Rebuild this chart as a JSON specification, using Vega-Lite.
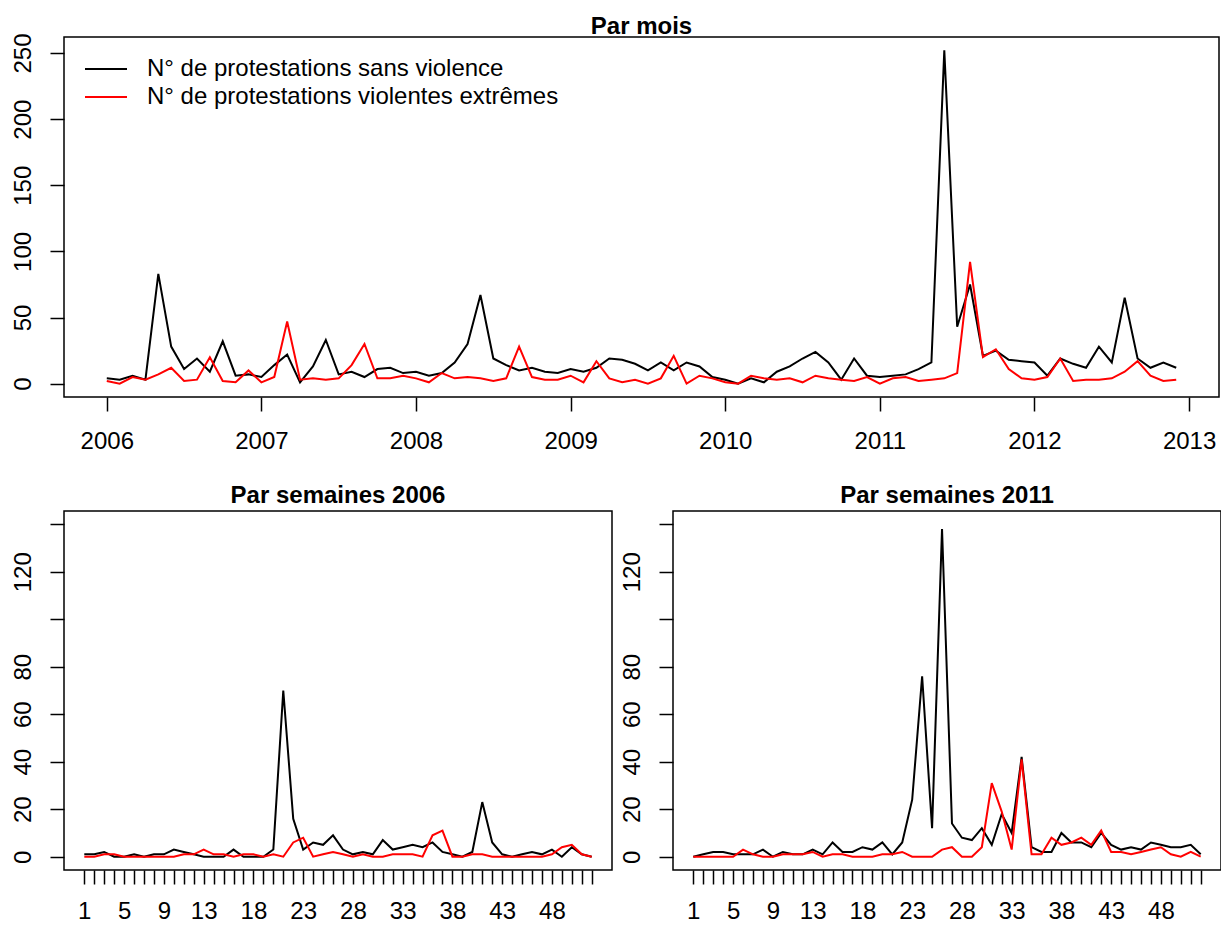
{
  "$schema": "https://vega.github.io/schema/vega-lite/v6.json",
  "padding": {"left": 10, "top": 14, "right": 0, "bottom": 0},
  "background": "white",
  "config": {
    "font": "Liberation Sans",
    "view": {"stroke": "#000000", "strokeWidth": 1.5},
    "axis": {"grid": false, "domain": false, "tickColor": "#000000", "tickWidth": 1.5, "tickSize": 14, "labelFont": "Liberation Sans", "labelFontSize": 24, "labelColor": "#000000", "labelFlush": false, "labelOverlap": false},
    "axisX": {"labelPadding": 15},
    "axisY": {"labelAngle": 270, "labelAlign": "center", "labelBaseline": "bottom", "labelPadding": 15},
    "title": {"fontSize": 24, "fontWeight": "bold", "font": "Liberation Sans", "color": "#000000", "offset": 0, "anchor": "middle"},
    "line": {"strokeWidth": 2}
  },
  "datasets": {
    "mois": [
      {"m":0,"sans":4,"viol":2},{"m":1,"sans":3,"viol":0},{"m":2,"sans":6,"viol":5},{"m":3,"sans":3,"viol":3},
      {"m":4,"sans":83,"viol":7},{"m":5,"sans":28,"viol":12},{"m":6,"sans":11,"viol":2},{"m":7,"sans":19,"viol":3},
      {"m":8,"sans":9,"viol":20},{"m":9,"sans":32,"viol":2},{"m":10,"sans":6,"viol":1},{"m":11,"sans":7,"viol":10},
      {"m":12,"sans":5,"viol":1},{"m":13,"sans":14,"viol":5},{"m":14,"sans":22,"viol":47},{"m":15,"sans":1,"viol":3},
      {"m":16,"sans":13,"viol":4},{"m":17,"sans":33,"viol":3},{"m":18,"sans":7,"viol":4},{"m":19,"sans":9,"viol":14},
      {"m":20,"sans":5,"viol":30},{"m":21,"sans":11,"viol":4},{"m":22,"sans":12,"viol":4},{"m":23,"sans":8,"viol":6},
      {"m":24,"sans":9,"viol":4},{"m":25,"sans":6,"viol":1},{"m":26,"sans":8,"viol":8},{"m":27,"sans":16,"viol":4},
      {"m":28,"sans":30,"viol":5},{"m":29,"sans":67,"viol":4},{"m":30,"sans":19,"viol":2},{"m":31,"sans":14,"viol":4},
      {"m":32,"sans":10,"viol":28},{"m":33,"sans":12,"viol":5},{"m":34,"sans":9,"viol":3},{"m":35,"sans":8,"viol":3},
      {"m":36,"sans":11,"viol":6},{"m":37,"sans":9,"viol":1},{"m":38,"sans":12,"viol":17},{"m":39,"sans":19,"viol":4},
      {"m":40,"sans":18,"viol":1},{"m":41,"sans":15,"viol":3},{"m":42,"sans":10,"viol":0},{"m":43,"sans":16,"viol":4},
      {"m":44,"sans":10,"viol":21},{"m":45,"sans":16,"viol":0},{"m":46,"sans":13,"viol":6},{"m":47,"sans":5,"viol":4},
      {"m":48,"sans":3,"viol":1},{"m":49,"sans":0,"viol":0},{"m":50,"sans":4,"viol":6},{"m":51,"sans":1,"viol":4},
      {"m":52,"sans":9,"viol":3},{"m":53,"sans":13,"viol":4},{"m":54,"sans":19,"viol":1},{"m":55,"sans":24,"viol":6},
      {"m":56,"sans":16,"viol":4},{"m":57,"sans":3,"viol":3},{"m":58,"sans":19,"viol":2},{"m":59,"sans":6,"viol":5},
      {"m":60,"sans":5,"viol":0},{"m":61,"sans":6,"viol":4},{"m":62,"sans":7,"viol":5},{"m":63,"sans":11,"viol":2},
      {"m":64,"sans":16,"viol":3},{"m":65,"sans":252,"viol":4},{"m":66,"sans":43,"viol":8},{"m":67,"sans":75,"viol":92},
      {"m":68,"sans":21,"viol":20},{"m":69,"sans":25,"viol":26},{"m":70,"sans":18,"viol":11},{"m":71,"sans":17,"viol":4},
      {"m":72,"sans":16,"viol":3},{"m":73,"sans":6,"viol":5},{"m":74,"sans":19,"viol":19},{"m":75,"sans":15,"viol":2},
      {"m":76,"sans":12,"viol":3},{"m":77,"sans":28,"viol":3},{"m":78,"sans":16,"viol":4},{"m":79,"sans":65,"viol":9},
      {"m":80,"sans":19,"viol":17},{"m":81,"sans":12,"viol":6},{"m":82,"sans":16,"viol":2},{"m":83,"sans":12,"viol":3}
    ],
    "s2006": [
      {"w":1,"sans":1,"viol":0},{"w":2,"sans":1,"viol":0},{"w":3,"sans":2,"viol":1},{"w":4,"sans":0,"viol":1},
      {"w":5,"sans":0,"viol":0},{"w":6,"sans":1,"viol":0},{"w":7,"sans":0,"viol":0},{"w":8,"sans":1,"viol":0},
      {"w":9,"sans":1,"viol":0},{"w":10,"sans":3,"viol":0},{"w":11,"sans":2,"viol":1},{"w":12,"sans":1,"viol":1},
      {"w":13,"sans":0,"viol":3},{"w":14,"sans":0,"viol":1},{"w":15,"sans":0,"viol":1},{"w":16,"sans":3,"viol":0},
      {"w":17,"sans":0,"viol":1},{"w":18,"sans":0,"viol":1},{"w":19,"sans":0,"viol":0},{"w":20,"sans":3,"viol":1},
      {"w":21,"sans":70,"viol":0},{"w":22,"sans":16,"viol":6},{"w":23,"sans":3,"viol":8},{"w":24,"sans":6,"viol":0},
      {"w":25,"sans":5,"viol":1},{"w":26,"sans":9,"viol":2},{"w":27,"sans":3,"viol":1},{"w":28,"sans":1,"viol":0},
      {"w":29,"sans":2,"viol":1},{"w":30,"sans":1,"viol":0},{"w":31,"sans":7,"viol":0},{"w":32,"sans":3,"viol":1},
      {"w":33,"sans":4,"viol":1},{"w":34,"sans":5,"viol":1},{"w":35,"sans":4,"viol":0},{"w":36,"sans":6,"viol":9},
      {"w":37,"sans":2,"viol":11},{"w":38,"sans":1,"viol":0},{"w":39,"sans":0,"viol":0},{"w":40,"sans":2,"viol":1},
      {"w":41,"sans":23,"viol":1},{"w":42,"sans":6,"viol":0},{"w":43,"sans":1,"viol":0},{"w":44,"sans":0,"viol":0},
      {"w":45,"sans":1,"viol":0},{"w":46,"sans":2,"viol":0},{"w":47,"sans":1,"viol":0},{"w":48,"sans":3,"viol":1},
      {"w":49,"sans":0,"viol":4},{"w":50,"sans":4,"viol":5},{"w":51,"sans":1,"viol":1},{"w":52,"sans":0,"viol":0}
    ],
    "s2011": [
      {"w":1,"sans":0,"viol":0},{"w":2,"sans":1,"viol":0},{"w":3,"sans":2,"viol":0},{"w":4,"sans":2,"viol":0},
      {"w":5,"sans":1,"viol":0},{"w":6,"sans":1,"viol":3},{"w":7,"sans":1,"viol":1},{"w":8,"sans":3,"viol":0},
      {"w":9,"sans":0,"viol":0},{"w":10,"sans":2,"viol":1},{"w":11,"sans":1,"viol":1},{"w":12,"sans":1,"viol":1},
      {"w":13,"sans":3,"viol":2},{"w":14,"sans":1,"viol":0},{"w":15,"sans":6,"viol":1},{"w":16,"sans":2,"viol":1},
      {"w":17,"sans":2,"viol":0},{"w":18,"sans":4,"viol":0},{"w":19,"sans":3,"viol":0},{"w":20,"sans":6,"viol":1},
      {"w":21,"sans":1,"viol":1},{"w":22,"sans":6,"viol":2},{"w":23,"sans":24,"viol":0},{"w":24,"sans":76,"viol":0},
      {"w":25,"sans":12,"viol":0},{"w":26,"sans":138,"viol":3},{"w":27,"sans":14,"viol":4},{"w":28,"sans":8,"viol":0},
      {"w":29,"sans":7,"viol":0},{"w":30,"sans":12,"viol":4},{"w":31,"sans":5,"viol":31},{"w":32,"sans":18,"viol":19},
      {"w":33,"sans":10,"viol":3},{"w":34,"sans":42,"viol":41},{"w":35,"sans":4,"viol":1},{"w":36,"sans":2,"viol":1},
      {"w":37,"sans":2,"viol":8},{"w":38,"sans":10,"viol":5},{"w":39,"sans":6,"viol":6},{"w":40,"sans":6,"viol":8},
      {"w":41,"sans":4,"viol":5},{"w":42,"sans":10,"viol":11},{"w":43,"sans":5,"viol":2},{"w":44,"sans":3,"viol":2},
      {"w":45,"sans":4,"viol":1},{"w":46,"sans":3,"viol":2},{"w":47,"sans":6,"viol":3},{"w":48,"sans":5,"viol":4},
      {"w":49,"sans":4,"viol":1},{"w":50,"sans":4,"viol":0},{"w":51,"sans":5,"viol":2},{"w":52,"sans":1,"viol":0}
    ]
  },
  "resolve": {"legend": {"color": "independent"}},
  "bounds": "flush",
  "spacing": 114,
  "vconcat": [
    {
      "width": 1155,
      "height": 360,
      "title": {"text": "Par mois", "offset": -6},
      "data": {"name": "mois"},
      "transform": [{"fold": ["sans", "viol"], "as": ["serie", "n"]}],
      "mark": {"type": "line", "strokeWidth": 2},
      "encoding": {
        "x": {"field": "m", "type": "quantitative", "title": null,
              "scale": {"domain": [-3.32, 86.32], "nice": false, "zero": false},
              "axis": {"values": [0, 12, 24, 36, 48, 60, 72, 84], "labelPadding": 18, "labelExpr": "'' + (2006 + datum.value / 12)"}},
        "y": {"field": "n", "type": "quantitative", "title": null,
              "scale": {"domain": [-10.1, 262.1], "nice": false, "zero": false},
              "axis": {"values": [0, 50, 100, 150, 200, 250]}},
        "color": {"field": "serie", "type": "nominal",
                  "scale": {"domain": ["sans", "viol"], "range": ["#000000", "#FF0000"]},
                  "legend": {"title": null, "orient": "none", "legendX": 30, "legendY": 20,
                             "symbolType": "M-2,0H2", "symbolSize": 441, "symbolStrokeWidth": 2,
                             "labelFontSize": 24, "labelFont": "Liberation Sans", "labelColor": "#000000",
                             "labelLimit": 0, "labelOffset": 29, "rowPadding": 4, "padding": 0,
                             "labelExpr": "datum.value == 'sans' ? 'N° de protestations sans violence' : 'N° de protestations violentes extrêmes'"}}
      }
    },
    {
      "hconcat": [
        {
          "width": 548,
          "height": 359,
          "title": {"text": "Par semaines 2006", "offset": 3},
          "data": {"name": "s2006"},
          "transform": [{"fold": ["sans", "viol"], "as": ["serie", "n"]}],
          "mark": {"type": "line", "strokeWidth": 2},
          "encoding": {
            "x": {"field": "w", "type": "quantitative", "title": null,
                  "scale": {"domain": [-1.04, 54.04], "nice": false, "zero": false},
                  "axis": {"values": [1,2,3,4,5,6,7,8,9,10,11,12,13,14,15,16,17,18,19,20,21,22,23,24,25,26,27,28,29,30,31,32,33,34,35,36,37,38,39,40,41,42,43,44,45,46,47,48,49,50,51,52],
                           "labelExpr": "indexof([1,5,9,13,18,23,28,33,38,43,48], datum.value) >= 0 ? datum.label : ''"}},
            "y": {"field": "n", "type": "quantitative", "title": null,
                  "scale": {"domain": [-5.6, 145.6], "nice": false, "zero": false},
                  "axis": {"values": [0, 20, 40, 60, 80, 100, 120, 140], "labelExpr": "datum.value == 100 || datum.value == 140 ? '' : datum.label"}},
            "color": {"field": "serie", "type": "nominal",
                      "scale": {"domain": ["sans", "viol"], "range": ["#000000", "#FF0000"]},
                      "legend": null}
          }
        },
        {
          "width": 548,
          "height": 359,
          "title": {"text": "Par semaines 2011", "offset": 3},
          "data": {"name": "s2011"},
          "transform": [{"fold": ["sans", "viol"], "as": ["serie", "n"]}],
          "mark": {"type": "line", "strokeWidth": 2},
          "encoding": {
            "x": {"field": "w", "type": "quantitative", "title": null,
                  "scale": {"domain": [-1.04, 54.04], "nice": false, "zero": false},
                  "axis": {"values": [1,2,3,4,5,6,7,8,9,10,11,12,13,14,15,16,17,18,19,20,21,22,23,24,25,26,27,28,29,30,31,32,33,34,35,36,37,38,39,40,41,42,43,44,45,46,47,48,49,50,51,52],
                           "labelExpr": "indexof([1,5,9,13,18,23,28,33,38,43,48], datum.value) >= 0 ? datum.label : ''"}},
            "y": {"field": "n", "type": "quantitative", "title": null,
                  "scale": {"domain": [-5.6, 145.6], "nice": false, "zero": false},
                  "axis": {"values": [0, 20, 40, 60, 80, 100, 120, 140], "labelExpr": "datum.value == 100 || datum.value == 140 ? '' : datum.label"}},
            "color": {"field": "serie", "type": "nominal",
                      "scale": {"domain": ["sans", "viol"], "range": ["#000000", "#FF0000"]},
                      "legend": null}
          }
        }
      ],
      "spacing": 61,
      "bounds": "flush"
    }
  ]
}
